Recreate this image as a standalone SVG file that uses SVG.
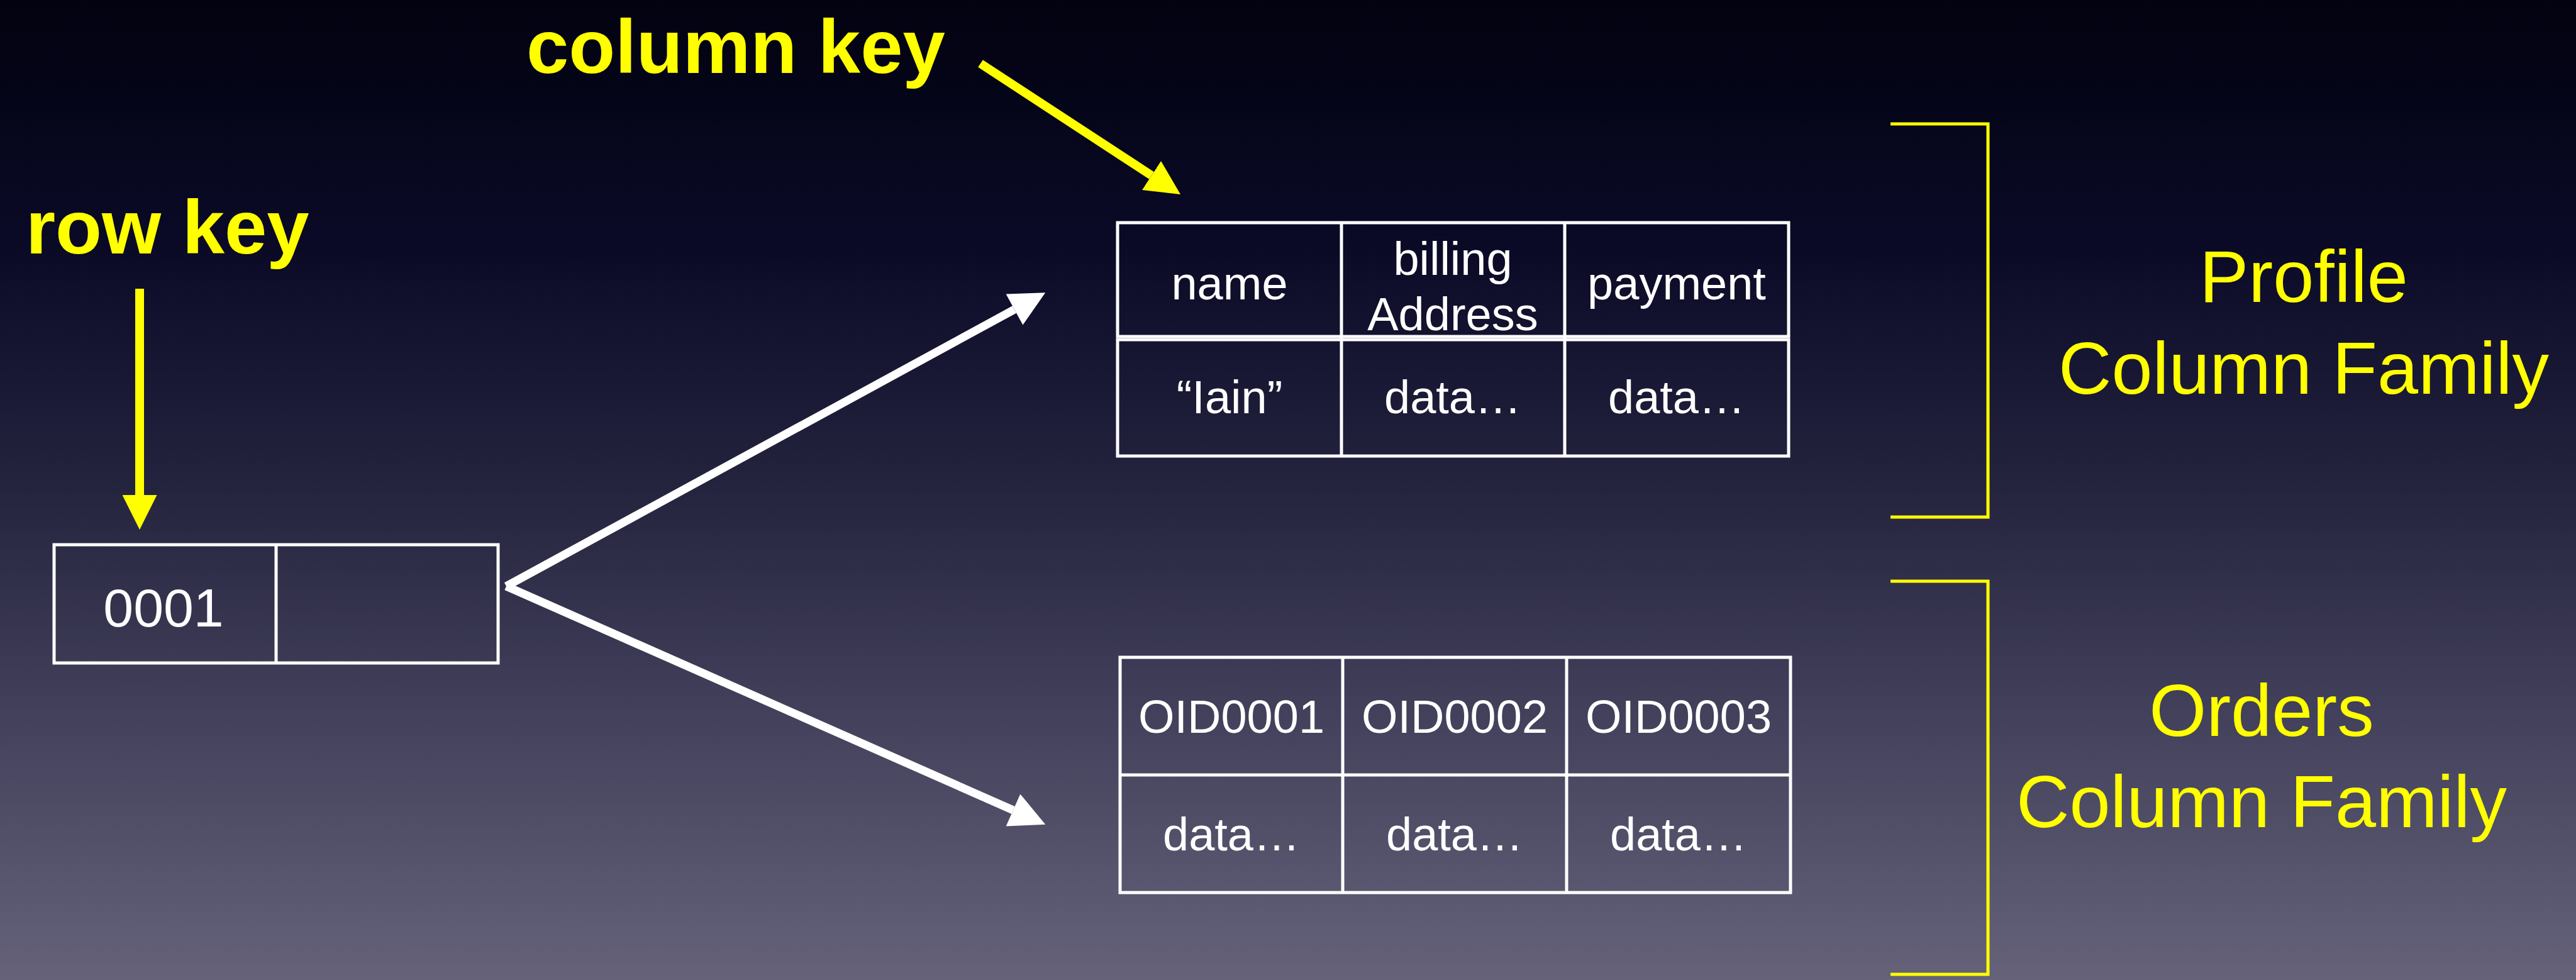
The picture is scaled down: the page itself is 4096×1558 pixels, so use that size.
<svg xmlns="http://www.w3.org/2000/svg" width="4096" height="1558" viewBox="0 0 4096 1558">
  <defs>
    <linearGradient id="bg" x1="0" y1="0" x2="0" y2="1">
      <stop offset="0" stop-color="#020210"/>
      <stop offset="0.25" stop-color="#0a0a27"/>
      <stop offset="0.5" stop-color="#25243f"/>
      <stop offset="0.75" stop-color="#45435d"/>
      <stop offset="1" stop-color="#65627a"/>
    </linearGradient>
    <marker id="headY" viewBox="0 0 10 10" refX="0" refY="5" markerWidth="55" markerHeight="55" markerUnits="userSpaceOnUse" orient="auto">
      <path d="M0,0 L10,5 L0,10 z" fill="#ffff00"/>
    </marker>
    <marker id="headW" viewBox="0 0 10 10" refX="0" refY="5" markerWidth="58" markerHeight="56" markerUnits="userSpaceOnUse" orient="auto">
      <path d="M0,0 L10,5 L0,10 z" fill="#ffffff"/>
    </marker>
  </defs>
  <style>
    .key { font-family: "Liberation Sans", Arial, sans-serif; font-weight: bold; font-size: 121px; fill: #ffff00; }
    .fam { font-family: "Liberation Sans", Arial, sans-serif; font-size: 117px; fill: #ffff00; text-anchor: middle; }
    .cell { font-family: "Liberation Sans", Arial, sans-serif; font-size: 74px; fill: #ffffff; text-anchor: middle; }
    .box { fill: none; stroke: #ffffff; stroke-width: 5; }
    .bracket { fill: none; stroke: #ffff00; stroke-width: 5; }
    .ylw { stroke: #ffff00; stroke-width: 14; fill: none; }
    .wht { stroke: #ffffff; stroke-width: 13; fill: none; stroke-linejoin: miter; }
  </style>
  <rect x="0" y="0" width="4096" height="1558" fill="url(#bg)"/>

  <g id="row-key-label">
    <text class="key" x="41" y="403">row key</text>
  </g>
  <g id="column-key-label">
    <text class="key" x="837" y="116">column key</text>
  </g>

  <g id="row-0001">
    <rect class="box" x="86" y="866" width="706" height="188"/>
    <line class="box" x1="439" y1="866" x2="439" y2="1054"/>
    <text class="cell" x="260" y="996" style="font-size:86px">0001</text>
  </g>

  <g id="profile-table">
    <rect class="box" x="1777" y="354" width="1067" height="181"/>
    <rect class="box" x="1777" y="540" width="1067" height="185"/>
    <line class="box" x1="2133" y1="354" x2="2133" y2="725"/>
    <line class="box" x1="2488" y1="354" x2="2488" y2="725"/>
    <text class="cell" x="1955" y="476">name</text>
    <text class="cell" x="2310" y="437">billing</text>
    <text class="cell" x="2310" y="525">Address</text>
    <text class="cell" x="2666" y="476">payment</text>
    <text class="cell" x="1955" y="657">“Iain”</text>
    <text class="cell" x="2310" y="657">data…</text>
    <text class="cell" x="2666" y="657">data…</text>
  </g>

  <g id="orders-table">
    <rect class="box" x="1781" y="1045" width="1066" height="374"/>
    <line class="box" x1="1781" y1="1232" x2="2847" y2="1232"/>
    <line class="box" x1="2135" y1="1045" x2="2135" y2="1419"/>
    <line class="box" x1="2491" y1="1045" x2="2491" y2="1419"/>
    <text class="cell" x="1958" y="1165">OID0001</text>
    <text class="cell" x="2313" y="1165">OID0002</text>
    <text class="cell" x="2669" y="1165">OID0003</text>
    <text class="cell" x="1958" y="1352">data…</text>
    <text class="cell" x="2313" y="1352">data…</text>
    <text class="cell" x="2669" y="1352">data…</text>
  </g>

  <g id="profile-family">
    <path class="bracket" d="M3006,197 H3161 V822 H3006"/>
    <text class="fam" x="3663" y="480">Profile</text>
    <text class="fam" x="3663" y="626">Column Family</text>
  </g>

  <g id="orders-family">
    <path class="bracket" d="M3006,924 H3161 V1549 H3006"/>
    <text class="fam" x="3596" y="1170">Orders</text>
    <text class="fam" x="3596" y="1315">Column Family</text>
  </g>

  <g id="connectors">
    <line class="ylw" x1="222" y1="459" x2="222" y2="787" marker-end="url(#headY)"/>
    <line class="ylw" x1="1559" y1="101" x2="1831" y2="279" marker-end="url(#headY)"/>
    <line class="wht" x1="805" y1="932" x2="1613" y2="492" marker-end="url(#headW)"/>
    <line class="wht" x1="805" y1="932" x2="1611" y2="1288" marker-end="url(#headW)"/>
  </g>
</svg>
